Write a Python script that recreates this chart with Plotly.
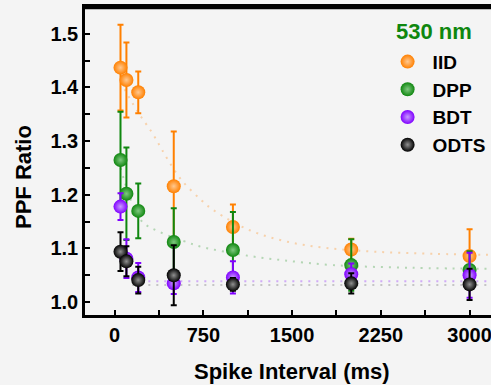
import plotly.graph_objects as go

# ---- data ----
interval_ms = [50, 100, 200, 500, 1000, 2000, 3000]

iid = [1.437, 1.414, 1.391, 1.216, 1.140, 1.098, 1.086]
iid_err = [0.080, 0.070, 0.039, 0.102, 0.042, 0.020, 0.050]

dpp = [1.265, 1.202, 1.170, 1.112, 1.097, 1.069, 1.060]
dpp_err = [0.090, 0.086, 0.051, 0.063, 0.071, 0.048, 0.035]

bdt = [1.178, 1.081, 1.046, 1.035, 1.046, 1.052, 1.050]
bdt_err = [0.025, 0.036, 0.027, 0.020, 0.030, 0.020, 0.042]

odts = [1.094, 1.076, 1.041, 1.050, 1.033, 1.035, 1.033]
odts_err = [0.036, 0.028, 0.025, 0.056, 0.012, 0.019, 0.029]

# axis ticks (major with labels, minor without)
x_tickvals = [0, 375, 750, 1125, 1500, 1875, 2250, 2625, 3000]
x_ticktext = ["0", "", "750", "", "1500", "", "2250", "", "3000"]
y_tickvals = [1.0, 1.05, 1.1, 1.15, 1.2, 1.25, 1.3, 1.35, 1.4, 1.45, 1.5]
y_ticktext = ["1.0", "", "1.1", "", "1.2", "", "1.3", "", "1.4", "", "1.5"]

# fitted decay curves
iid_fit_x = [50, 195, 310, 380, 451, 564, 733, 845, 1141, 1451, 1790, 2200, 2700, 3250]
iid_fit_y = [1.410, 1.355, 1.318, 1.292, 1.265, 1.228, 1.190, 1.170, 1.134, 1.113, 1.101, 1.094, 1.090, 1.088]
dpp_fit_x = [50, 225, 380, 634, 733, 1141, 1423, 1846, 2500, 3250]
dpp_fit_y = [1.250, 1.152, 1.131, 1.110, 1.103, 1.086, 1.078, 1.069, 1.064, 1.062]
bdt_fit_x = [150, 3250]
bdt_fit_y = [1.039, 1.039]
odts_fit_x = [150, 3250]
odts_fit_y = [1.032, 1.032]

names = ["IID", "DPP", "BDT", "ODTS"]
colors = ["#FF8000", "#0F870F", "#8000FF", "#000000"]
tints = ["#FFC890", "#80C880", "#C89BFF", "#909090"]
fit_colors = ["rgba(255,128,0,0.30)", "rgba(15,135,15,0.28)",
              "rgba(128,0,255,0.30)", "rgba(90,90,90,0.30)"]

values = [iid, dpp, bdt, odts]
errors = [iid_err, dpp_err, bdt_err, odts_err]
fits = [(iid_fit_x, iid_fit_y), (dpp_fit_x, dpp_fit_y),
        (bdt_fit_x, bdt_fit_y), (odts_fit_x, odts_fit_y)]

fig = go.Figure()

for (fx, fy), fc in zip(fits, fit_colors):
    fig.add_trace(go.Scatter(
        x=fx, y=fy, mode="lines", line=dict(color=fc, width=2, dash="2px,6px", shape="spline"),
        showlegend=False, hoverinfo="skip"))

for name, c, t, v, e in zip(names, colors, tints, values, errors):
    fig.add_trace(go.Scatter(
        x=interval_ms, y=v, mode="markers", name=name,
        marker=dict(size=14, color=c, line=dict(width=0),
                    gradient=dict(type="radial", color=t)),
        error_y=dict(type="data", array=e, visible=True, color=c, thickness=2, width=3),
    ))

font_family = "Liberation Sans, Arial, sans-serif"

fig.update_layout(
    width=491, height=385,
    margin=dict(l=85, r=0, t=7, b=70, autoexpand=False),
    paper_bgcolor="#F4F4F4", plot_bgcolor="#F4F4F4",
    font=dict(family=font_family, color="black"),
    showlegend=True,
    legend=dict(x=0.733, y=0.884, xanchor="left", yanchor="top",
                bgcolor="rgba(0,0,0,0)", font=dict(size=19, weight="bold"),
                itemwidth=40, tracegroupgap=0),
    xaxis=dict(range=[-250, 3181], tickmode="array", tickvals=x_tickvals, ticktext=x_ticktext,
               automargin=False,
               showgrid=False, zeroline=False, showline=True, linecolor="black", linewidth=2.5,
               mirror=True, ticks="inside", ticklen=5, tickwidth=2, tickcolor="black",
               tickfont=dict(size=20, weight="bold"),
               ticklabeloverflow="allow"),
    yaxis=dict(range=[0.976, 1.55], tickmode="array", tickvals=y_tickvals, ticktext=y_ticktext,
               automargin=False,
               showgrid=False, zeroline=False, showline=True, linecolor="black", linewidth=2.5,
               ticks="inside", ticklen=5, tickwidth=2, tickcolor="black",
               tickfont=dict(size=20, weight="bold")),
    shapes=[
        dict(type="rect", xref="paper", yref="paper", x0=-0.003, x1=1.0, y0=0.993, y1=1.003,
             fillcolor="#000000", line=dict(width=0), layer="above"),
        dict(type="line", xref="x domain", yref="y domain", x0=0, x1=1.0, y0=0.998, y1=0.998,
             line=dict(color="#000000", width=2), layer="above"),
    ],
    annotations=[
        dict(text="Spike Interval (ms)", xref="x", x=1500, yref="paper", y=-0.1845,
             xanchor="center", yanchor="middle", showarrow=False,
             font=dict(size=22, weight="bold")),
        dict(text="PPF Ratio", xref="paper", x=-0.1527, yref="paper", y=0.448,
             xanchor="center", yanchor="middle", textangle=-90, showarrow=False,
             font=dict(size=22, weight="bold")),
        dict(text="530 nm", xref="paper", x=0.761, yref="paper", y=0.922,
             xanchor="left", yanchor="middle", showarrow=False,
             font=dict(size=22, weight="bold", color="#0F870F")),
    ],
)

fig.write_html("out.html", config={"displayModeBar": False})
